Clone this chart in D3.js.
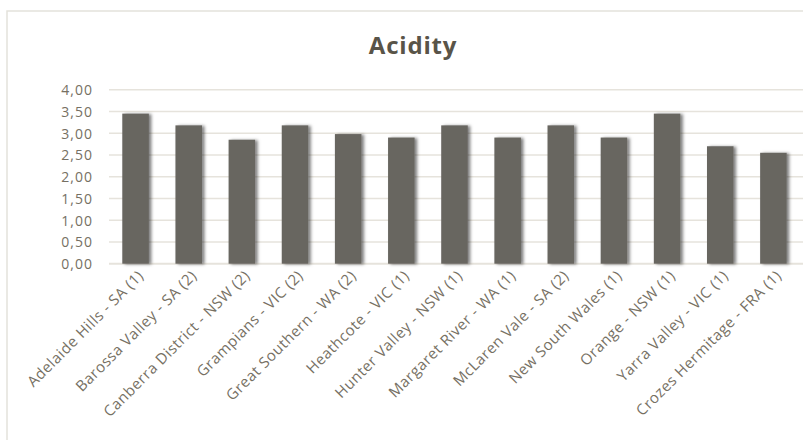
<!DOCTYPE html>
<html>
<head>
<meta charset="utf-8">
<script src="https://cdn.jsdelivr.net/npm/d3@7"></script>
<style>
  html, body { margin: 0; padding: 0; background: #ffffff; }
  svg { display: block; }
</style>
</head>
<body>
<svg id="chart" width="803" height="440"></svg>
<script>
// Wine regions and their measured acidity
const regions = [
  "Adelaide Hills - SA (1)",
  "Barossa Valley - SA (2)",
  "Canberra District - NSW (2)",
  "Grampians - VIC (2)",
  "Great Southern - WA (2)",
  "Heathcote - VIC (1)",
  "Hunter Valley - NSW (1)",
  "Margaret River - WA (1)",
  "McLaren Vale - SA (2)",
  "New South Wales (1)",
  "Orange - NSW (1)",
  "Yarra Valley - VIC (1)",
  "Crozes Hermitage - FRA (1)"
];
const acidity = [3.45, 3.18, 2.85, 3.18, 2.98, 2.9, 3.18, 2.9, 3.18, 2.9, 3.45, 2.7, 2.55];
const yTicks = [0, 0.5, 1, 1.5, 2, 2.5, 3, 3.5, 4];
const chartTitle = "Acidity";

const svg = d3.select("#chart");
const labelFont = "'Open Sans', 'DejaVu Sans', sans-serif";
const textColor = "#767063";
const gridColor = "#e6e3dc";

// chart area frame
svg.append("rect")
  .attr("x", 7).attr("y", 11)
  .attr("width", 830).attr("height", 460)
  .attr("fill", "#ffffff")
  .attr("stroke", "#e4e2db")
  .attr("stroke-width", 1.5);

const plot = { left: 109, right: 800, top: 89.7, bottom: 263.7 };

const x = d3.scaleBand()
  .domain(regions)
  .range([plot.left, plot.right])
  .paddingInner(0.5)
  .paddingOuter(0.25);

const y = d3.scaleLinear()
  .domain([0, 4])
  .range([plot.bottom, plot.top]);

const locale = d3.formatLocale({ decimal: ",", thousands: ".", grouping: [3], currency: ["", ""] });
const fmt = locale.format(".2f");

// soft shadow cast by the bars
const defs = svg.append("defs");
const shadow = defs.append("filter")
  .attr("id", "barShadow")
  .attr("x", "-30%").attr("y", "-10%")
  .attr("width", "160%").attr("height", "120%");
shadow.append("feDropShadow")
  .attr("dx", 2.5).attr("dy", 0.5)
  .attr("stdDeviation", 1.8)
  .attr("flood-color", "#000000")
  .attr("flood-opacity", 0.5);

// horizontal gridlines
svg.append("g")
  .selectAll("line")
  .data(yTicks)
  .join("line")
  .attr("x1", plot.left)
  .attr("x2", 803)
  .attr("y1", d => y(d))
  .attr("y2", d => y(d))
  .attr("stroke", gridColor)
  .attr("stroke-width", d => d === 0 ? 2 : 1.4);

// y axis labels
const yAxis = d3.axisLeft(y)
  .tickValues(yTicks)
  .tickFormat(fmt)
  .tickSize(0)
  .tickPadding(0);
const yg = svg.append("g")
  .attr("transform", `translate(93,0)`)
  .call(yAxis);
yg.select(".domain").remove();
yg.selectAll("text")
  .attr("fill", textColor)
  .attr("font-family", labelFont)
  .attr("font-size", "14px")
  .attr("letter-spacing", "1px")
  .attr("dy", "0.36em");

// bars
svg.append("g")
  .selectAll("rect")
  .data(regions.map((r, i) => ({ region: r, value: acidity[i] })))
  .join("rect")
  .attr("x", d => x(d.region))
  .attr("y", d => y(d.value))
  .attr("width", x.bandwidth())
  .attr("height", d => y(0) - y(d.value))
  .attr("fill", "#686661")
  .attr("filter", "url(#barShadow)");

// rotated category labels
const xAxis = d3.axisBottom(x).tickSize(0).tickPadding(0);
const xg = svg.append("g")
  .attr("transform", `translate(0,${plot.bottom})`)
  .call(xAxis);
xg.select(".domain").remove();
xg.selectAll("text")
  .attr("fill", textColor)
  .attr("font-family", labelFont)
  .attr("font-size", "15px")
  .attr("letter-spacing", "0.5px")
  .attr("text-anchor", "end")
  .attr("dy", null)
  .attr("y", null)
  .attr("transform", "translate(9,13) rotate(-45)");

// title
svg.append("text")
  .attr("x", 413)
  .attr("y", 54)
  .attr("text-anchor", "middle")
  .attr("font-family", labelFont)
  .attr("font-weight", "bold")
  .attr("font-size", "24px")
  .attr("letter-spacing", "0.8px")
  .attr("fill", "#595448")
  .text(chartTitle);
</script>
</body>
</html>
